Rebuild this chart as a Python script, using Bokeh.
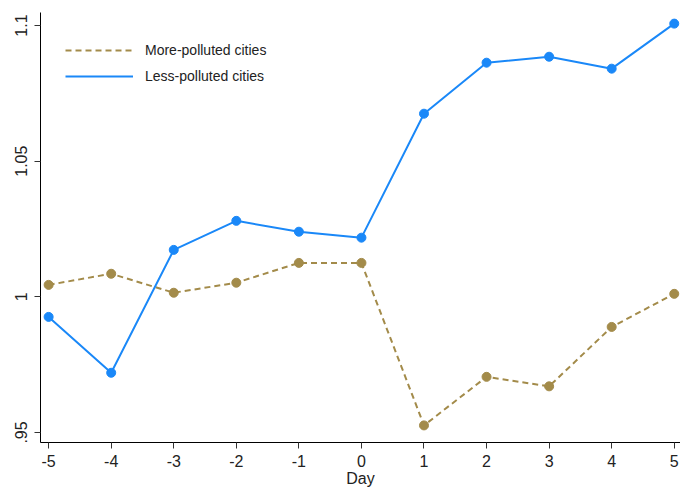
from bokeh.plotting import figure
from bokeh.models import Range1d, FixedTicker, Legend, LegendItem
from bokeh.embed import file_html
from bokeh.resources import INLINE

days = [-5, -4, -3, -2, -1, 0, 1, 2, 3, 4, 5]
day_labels = ["-5", "-4", "-3", "-2", "-1", "0", "1", "2", "3", "4", "5"]
more_polluted = [1.0044, 1.0085, 1.0015, 1.0052, 1.0125, 1.0125, 0.9526, 0.9705, 0.9670, 0.9889, 1.0011]
less_polluted = [0.9926, 0.9720, 1.0173, 1.0280, 1.0240, 1.0218, 1.0675, 1.0863, 1.0885, 1.0841, 1.1007]
y_ticks = [0.95, 1.0, 1.05, 1.1]
y_tick_labels = [".95", "1", "1.05", "1.1"]

TAN = "#a38b4a"
BLUE = "#1a88f8"
FONT = "Liberation Sans"

p = figure(width=680, height=489, output_backend="svg", toolbar_location=None,
           x_range=Range1d(-5.13, 5.1), y_range=Range1d(0.9463, 1.1048),
           min_border_left=40, min_border_right=0, min_border_top=12, min_border_bottom=47)
p.outline_line_color = None
p.xgrid.visible = False
p.ygrid.visible = False

r1 = p.line(days, more_polluted, line_color=TAN, line_width=2, line_dash="6 4")
p.scatter(days, more_polluted, size=9, color=TAN)
r2 = p.line(days, less_polluted, line_color=BLUE, line_width=2)
p.scatter(days, less_polluted, size=9, color=BLUE)

p.xaxis.ticker = FixedTicker(ticks=days)
p.xaxis.major_label_overrides = {d: l for d, l in zip(days, day_labels)}
p.xaxis.axis_label = "Day"
p.xaxis.axis_label_text_font = FONT
p.xaxis.axis_label_text_font_style = "normal"
p.xaxis.axis_label_text_font_size = "16px"
p.xaxis.axis_label_standoff = 0
p.xaxis.major_label_text_font = FONT
p.xaxis.major_label_text_font_size = "16px"
p.xaxis.major_label_standoff = 6

p.yaxis.ticker = FixedTicker(ticks=y_ticks)
p.yaxis.major_label_overrides = {t: l for t, l in zip(y_ticks, y_tick_labels)}
p.yaxis.major_label_orientation = "vertical"
p.yaxis.major_label_text_font = FONT
p.yaxis.major_label_text_font_size = "16px"
p.yaxis.major_label_standoff = 7

for ax in (p.xaxis[0], p.yaxis[0]):
    ax.major_tick_in = 0
    ax.major_tick_out = 6
    ax.minor_tick_in = 0
    ax.minor_tick_out = 0
    ax.axis_line_color = "black"
    ax.major_tick_line_color = "#333333"
    ax.major_label_text_color = "#222222"
    ax.axis_label_text_color = "#222222"

legend = Legend(items=[LegendItem(label="More-polluted cities", renderers=[r1]),
                       LegendItem(label="Less-polluted cities", renderers=[r2])],
                location=(25, 356))
legend.border_line_color = None
legend.background_fill_alpha = 0
legend.label_text_font = FONT
legend.label_text_font_size = "14px"
legend.label_text_color = "#222222"
legend.label_standoff = 12
legend.glyph_width = 68
legend.spacing = 6
legend.margin = 0
legend.padding = 0
p.add_layout(legend)

open("out.html", "w").write(file_html(p, INLINE))
